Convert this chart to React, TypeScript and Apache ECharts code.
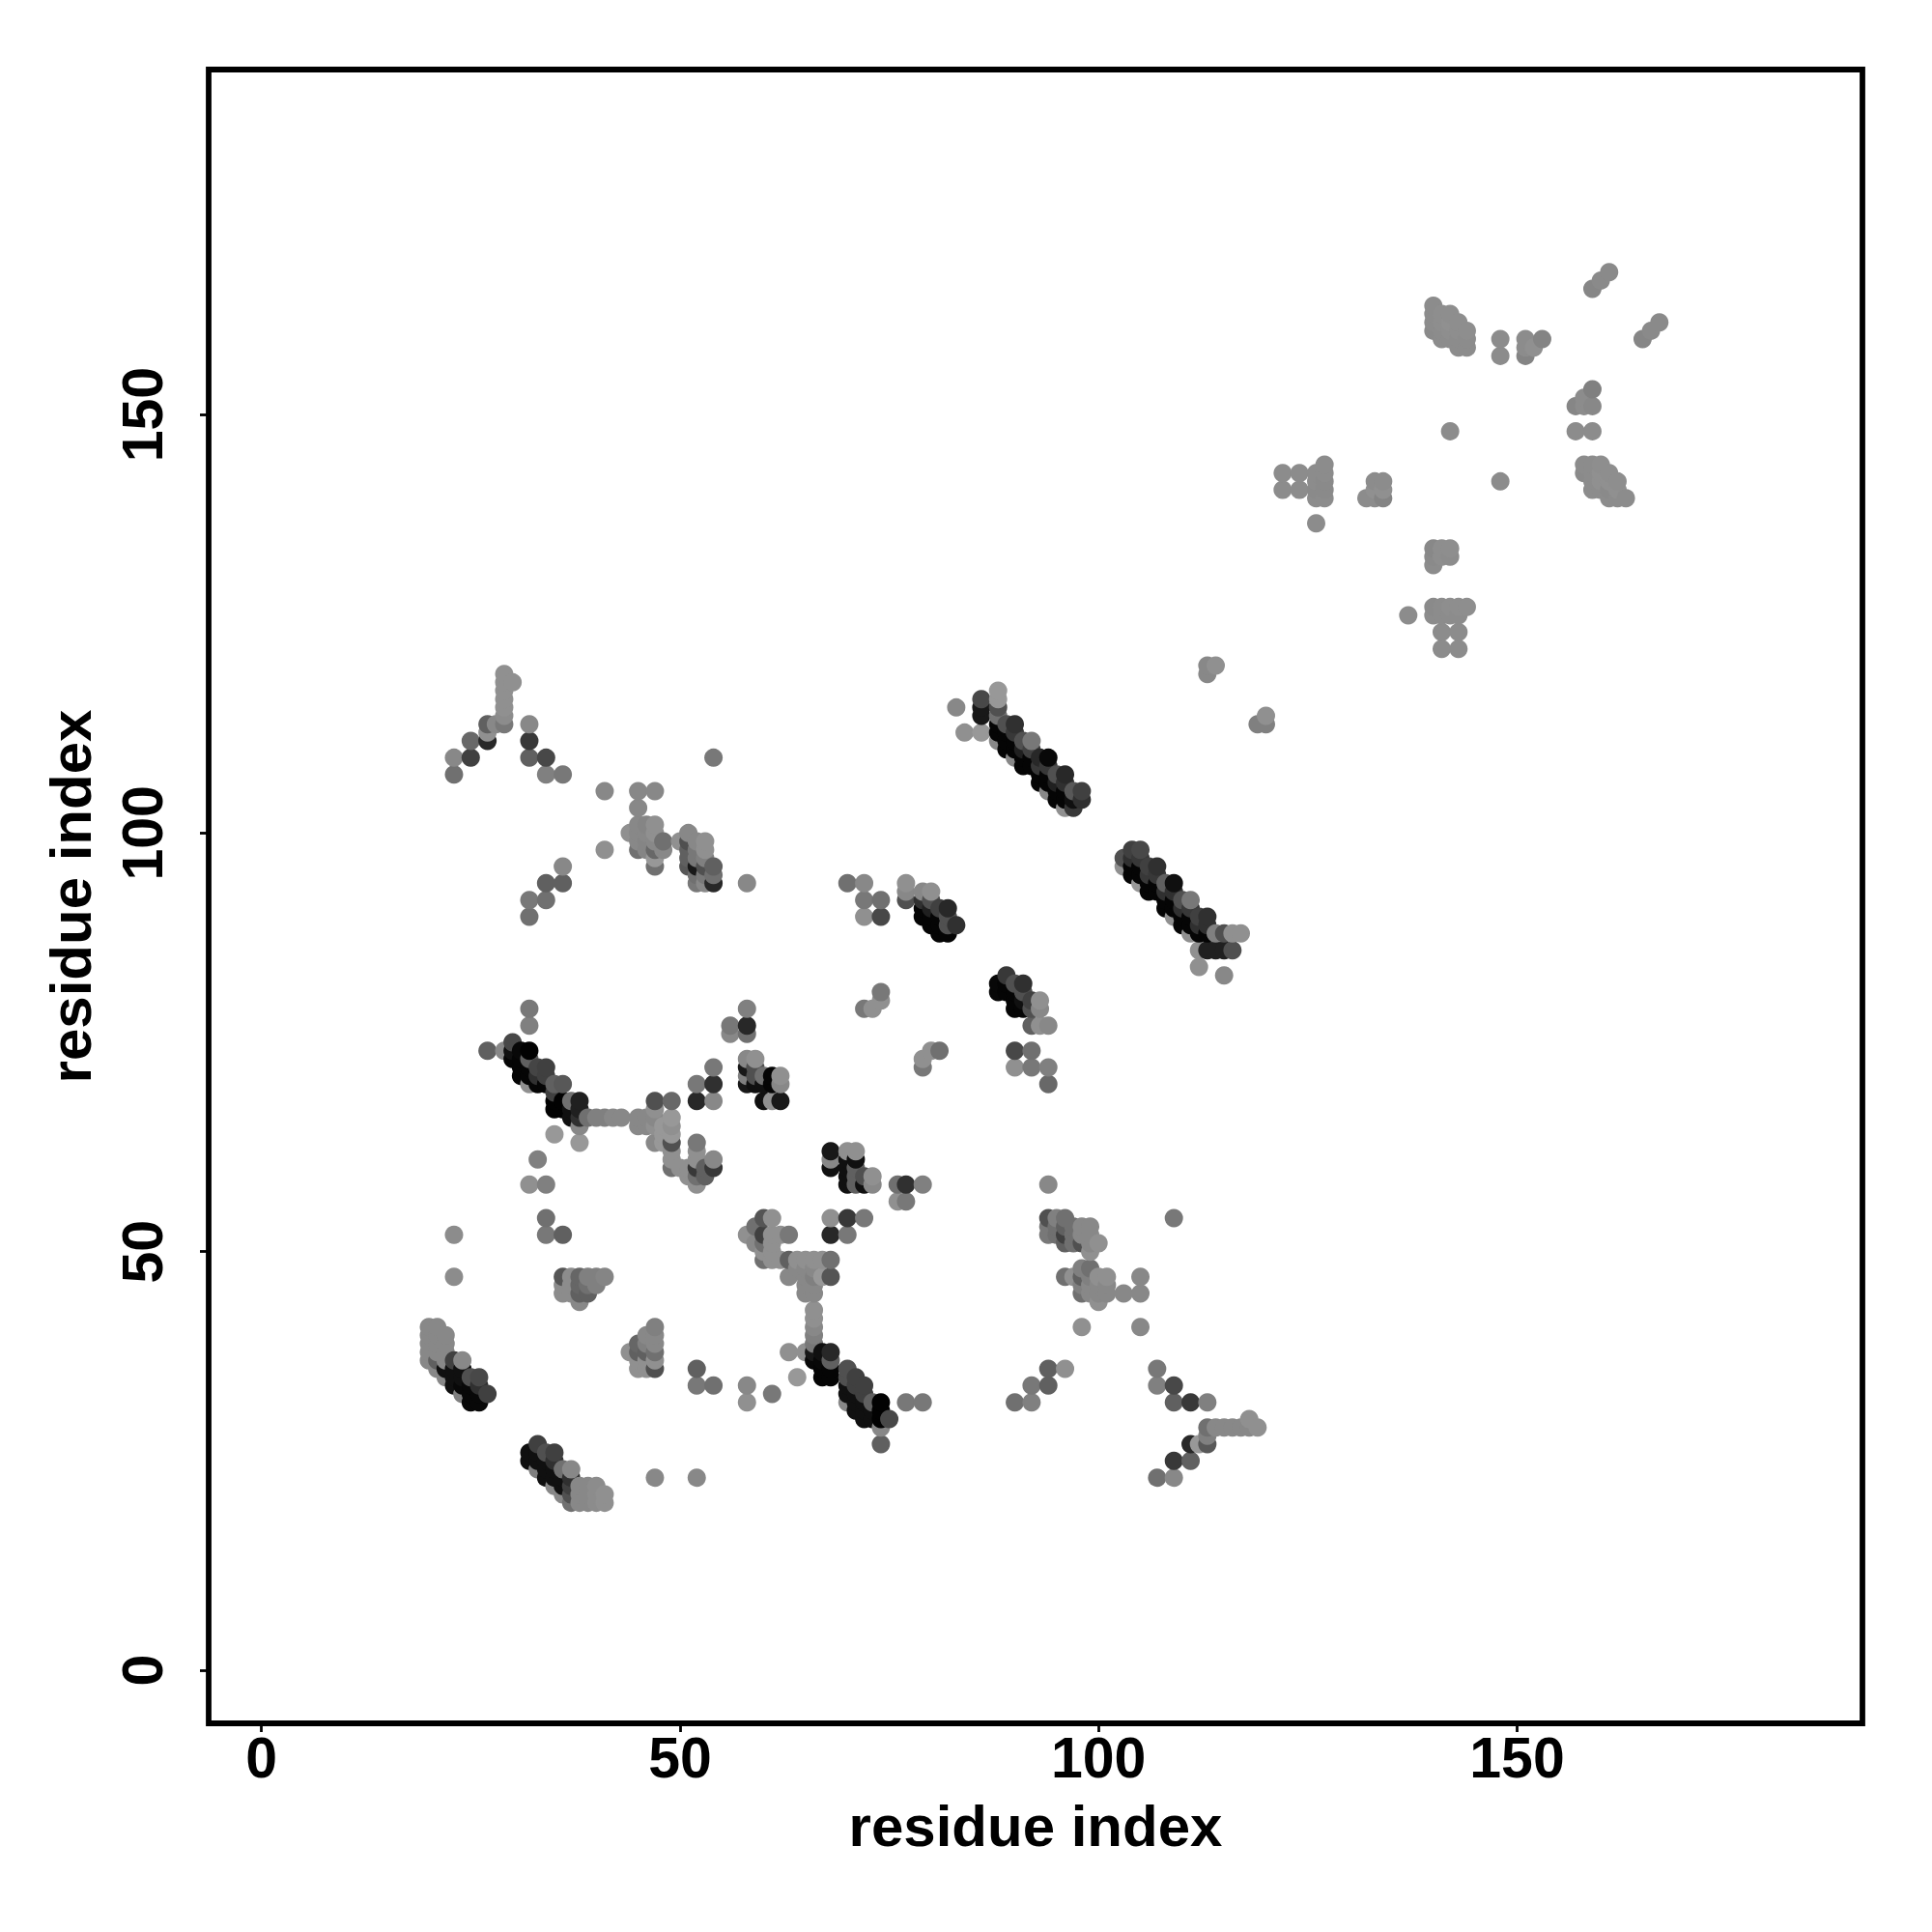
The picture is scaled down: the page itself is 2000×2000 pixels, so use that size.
import React, { useEffect, useRef } from "react";
import * as echarts from "echarts";

type P = [number, number, number];

const axisTicks = [0, 50, 100, 150];
const axisTitle = "residue index";

const bandA: P[] = [
  [20,37,0x88],[20,38,0x88],[20,39,0x88],[20,40,0x88],[20,41,0x88],
  [21,36,0x88],[21,37,0x60],[21,38,0x88],[21,39,0x88],[21,40,0x88],[21,41,0x88],
  [22,35,0x88],[22,36,0x10],[22,37,0x88],[22,38,0x88],[22,39,0x88],[22,40,0x88],
  [23,34,0x10],[23,35,0x10],[23,36,0x10],[23,37,0x40],
  [24,33,0x80],[24,34,0x08],[24,35,0x10],[24,36,0x10],[24,37,0x88],
  [25,32,0x08],[25,33,0x08],[25,34,0x08],[25,35,0x50],
  [26,32,0x08],[26,33,0x08],[26,34,0x30],[26,35,0x48],
  [27,33,0x40],
];
const bandB: P[] = [
  [32,25,0x10],[32,26,0x10],
  [33,24,0x80],[33,25,0x10],[33,26,0x10],[33,27,0x40],
  [34,23,0x10],[34,24,0x10],[34,25,0x10],[34,26,0x50],
  [35,22,0x88],[35,23,0x10],[35,24,0x10],[35,25,0x30],[35,26,0x40],
  [36,21,0x88],[36,22,0x10],[36,23,0x10],[36,24,0x70],
  [37,20,0x70],[37,21,0x50],[37,22,0x40],[37,23,0x30],[37,24,0x88],
  [38,20,0x88],[38,21,0x88],[38,22,0x88],
  [39,20,0x88],[39,21,0x88],[39,22,0x88],
  [40,20,0x8c],[40,21,0x8c],[40,22,0x8c],
  [41,20,0x90],[41,21,0x90],
  [47,23,0x88],[52,23,0x88],
];
const lowerLeft: P[] = [
  [23,47,0x8c],[23,52,0x8c],[34,54,0x70],[34,52,0x78],[36,52,0x60],
  [36,47,0x55],[37,47,0x8c],[38,47,0x66],[39,47,0x80],[40,47,0x80],[41,47,0x85],
  [36,46,0x8c],[37,46,0x8c],[38,46,0x66],[39,46,0x70],[40,46,0x80],
  [36,45,0x8c],[37,45,0x8c],[38,45,0x60],[39,45,0x60],[38,44,0x88],
  [44,38,0x90],[45,36,0x90],[45,37,0x90],[45,38,0x60],[45,39,0x66],
  [46,36,0x90],[46,37,0x90],[46,38,0x60],[46,39,0x80],[46,40,0x88],
  [47,36,0x50],[47,37,0x90],[47,38,0x70],[47,39,0x88],[47,40,0x88],[47,41,0x80],
  [52,36,0x60],[52,34,0x78],[54,34,0x70],[58,34,0x88],[58,32,0x90],[61,33,0x78],
  [63,38,0x90],[65,38,0x90],[64,35,0x98],
];
const bandC: P[] = [
  [66,43,0x90],[66,42,0x90],[66,41,0x88],[66,40,0x80],[66,39,0x78],[66,38,0x18],[66,37,0x08],
  [67,38,0x10],[67,37,0x08],[67,36,0x05],[67,35,0x05],
  [68,38,0x28],[68,37,0x60],[68,36,0x05],[68,35,0x05],
  [70,36,0x50],[70,35,0x50],[70,34,0x10],[70,33,0x10],[70,32,0x88],
  [71,35,0x40],[71,34,0x40],[71,33,0x10],[71,32,0x10],[71,31,0x10],
  [72,34,0x40],[72,33,0x40],[72,32,0x10],[72,31,0x10],[72,30,0x10],
  [73,32,0x60],[73,31,0x10],[73,30,0x10],
  [74,32,0x02],[74,31,0x02],[74,30,0x02],[74,29,0x88],[74,27,0x60],
  [75,30,0x48],[77,32,0x78],[79,32,0x78],
];
const middleLow: P[] = [
  [58,52,0x90],[59,53,0x70],[59,51,0x88],[60,54,0x55],[60,52,0x40],[60,51,0x70],[60,50,0x90],[60,49,0x70],
  [61,54,0x90],[61,52,0x90],[61,51,0x90],[61,50,0x90],[61,49,0x90],
  [62,52,0x90],[62,49,0x90],[63,52,0x78],[63,49,0x60],[63,47,0x88],[64,49,0x90],[64,48,0x88],
  [65,49,0x90],[65,48,0x88],[65,47,0x88],[65,46,0x88],[65,45,0x88],
  [66,49,0x90],[66,48,0x88],[66,47,0x80],[66,46,0x88],[66,45,0x88],
  [67,49,0x90],[67,47,0x98],[68,49,0x70],[68,47,0x55],
  [68,54,0x90],[70,54,0x38],[72,54,0x78],[68,52,0x28],[70,52,0x78],
];
const blockD: P[] = [
  [68,62,0x18],[68,61,0x88],[68,60,0x10],
  [70,62,0x90],[70,61,0x10],[70,60,0x10],[70,59,0x10],[70,58,0x10],
  [71,62,0x90],[71,61,0x10],[71,60,0x60],[71,59,0x60],[71,58,0x60],
  [72,59,0x50],[72,58,0x10],[73,59,0x90],[73,58,0x88],
  [76,58,0x70],[77,58,0x30],[79,58,0x80],[76,56,0x90],[77,56,0x78],
  [94,58,0x88],
];
const rightLow: P[] = [
  [94,54,0x50],[95,54,0x80],[96,54,0x70],[94,53,0x78],[94,52,0x78],
  [95,53,0x70],[95,52,0x70],[96,53,0x60],[96,52,0x40],[96,51,0x60],
  [97,53,0x70],[97,52,0x70],[97,51,0x70],[98,53,0x88],[98,52,0x88],[98,51,0x50],
  [99,53,0x88],[99,52,0x88],[99,51,0x88],[99,50,0x90],[100,51,0x90],
  [96,47,0x70],[97,47,0x90],[98,48,0x80],[98,47,0x60],[98,46,0x80],[98,45,0x70],
  [99,48,0x70],[99,47,0x80],[99,46,0x88],[99,45,0x88],
  [100,47,0x90],[100,46,0x88],[100,45,0x88],[100,44,0x90],
  [101,47,0x90],[101,46,0x88],[101,45,0x88],
  [103,45,0x88],[105,47,0x88],[105,45,0x88],[98,41,0x90],[105,41,0x88],[109,54,0x78],
  [94,36,0x60],[96,36,0x90],[92,34,0x78],[94,34,0x60],[90,32,0x70],[92,32,0x80],
  [107,36,0x78],[107,34,0x80],[109,34,0x48],[109,32,0x60],[111,32,0x38],[113,32,0x80],
  [113,29,0x70],[114,29,0x88],[115,29,0x88],[116,29,0x88],[117,29,0x88],[118,30,0x90],[118,29,0x88],[119,29,0x90],
  [113,28,0x80],[113,27,0x58],[112,27,0x98],[111,27,0x28],[111,25,0x60],[109,25,0x38],[107,23,0x70],[109,23,0x88],
];
const bandE: P[] = [
  [32,79,0x78],[32,77,0x80],[27,74,0x60],[29,74,0x88],[30,75,0x48],[30,74,0x10],[30,73,0x05],
  [31,74,0x08],[31,73,0x05],[31,72,0x05],[31,71,0x05],
  [32,74,0x02],[32,73,0x60],[32,72,0x05],[32,71,0x05],[32,70,0x90],
  [33,72,0x45],[33,71,0x30],[33,70,0x05],[34,72,0x40],[34,71,0x40],[34,70,0x05],
  [35,70,0x60],[35,69,0x40],[35,68,0x02],[35,67,0x02],[36,70,0x58],[36,68,0x02],[36,67,0x02],
  [37,68,0x70],[37,67,0x10],[37,66,0x10],[38,68,0x20],[38,67,0x20],[38,66,0x30],[38,65,0x88],[38,63,0x98],
  [39,66,0x70],[40,66,0x80],[41,66,0x80],[42,66,0x88],[43,66,0x88],
  [35,64,0x98],[33,61,0x80],[32,58,0x90],[34,58,0x80],
];
const middleMid: P[] = [
  [45,66,0x88],[45,65,0x88],[46,66,0x88],[46,65,0x88],[47,68,0x50],[47,67,0x90],[47,66,0x88],[47,65,0x90],[47,63,0x88],
  [48,65,0x98],[48,64,0x98],[48,63,0x98],
  [49,68,0x68],[49,66,0x98],[49,65,0x90],[49,64,0x98],[49,63,0x50],[49,62,0x90],[49,61,0x90],[49,60,0x70],
  [50,60,0x90],[51,60,0x90],[51,59,0x90],
  [52,63,0x78],[52,62,0x90],[52,61,0x90],[52,60,0x38],[52,59,0x70],[52,58,0x90],
  [53,60,0x60],[53,59,0x60],[54,61,0x88],[54,60,0x38],
  [52,70,0x78],[52,68,0x28],[54,72,0x78],[54,70,0x30],[54,68,0x88],
  [56,77,0x78],[56,76,0x88],[58,79,0x80],[58,77,0x28],[58,76,0x70],
  [58,73,0x88],[58,72,0x18],[58,71,0x80],[58,70,0x18],
  [59,73,0x90],[59,72,0x50],[59,71,0x50],[59,70,0x10],
  [60,71,0x70],[60,70,0x10],[60,68,0x10],[61,71,0x05],[61,70,0x05],[61,68,0x90],
  [62,71,0x90],[62,70,0x88],[62,68,0x18],
];
const middleHigh: P[] = [
  [74,81,0x78],[74,80,0x90],[73,79,0x90],[72,79,0x78],
  [81,74,0x70],[80,74,0x90],[79,73,0x90],[79,72,0x78],
  [88,82,0x08],[88,81,0x08],[89,83,0x38],[89,82,0x05],[89,81,0x05],
  [90,82,0x50],[90,81,0x05],[90,80,0x05],[90,79,0x05],
  [91,82,0x30],[91,81,0x50],[91,80,0x10],[91,79,0x05],
  [92,80,0x40],[92,79,0x50],[93,80,0x90],[93,79,0x88],
  [92,77,0x60],[93,77,0x90],[94,77,0x88],
  [90,74,0x48],[92,74,0x70],[90,72,0x90],[92,72,0x78],[94,72,0x80],[94,70,0x68],
];
const upperLeft: P[] = [
  [29,119,0x90],[30,118,0x90],[29,118,0x90],[29,117,0x90],[29,116,0x90],[29,115,0x90],[29,114,0x8c],[29,113,0x78],
  [28,113,0x88],[27,113,0x60],[27,112,0x90],[27,111,0x28],[25,111,0x68],[25,109,0x40],[23,109,0x88],[23,107,0x70],
  [32,113,0x88],[32,111,0x38],[32,109,0x60],[34,109,0x48],[34,107,0x80],[36,107,0x78],
  [54,109,0x78],[41,105,0x88],[45,105,0x88],[47,105,0x88],[45,103,0x88],[41,98,0x90],
  [44,100,0x90],[45,101,0x88],[45,100,0x88],[45,99,0x88],[45,98,0x70],
  [46,101,0x85],[46,100,0x88],[46,99,0x85],[46,98,0x85],
  [47,101,0x90],[47,100,0x90],[47,99,0x88],[47,98,0x68],[47,97,0x98],[47,96,0x70],
  [48,99,0x70],[48,98,0x88],[50,99,0x90],
  [51,100,0x88],[51,99,0x50],[51,98,0x60],[51,97,0x60],[51,96,0x58],
  [52,99,0x88],[52,98,0x78],[52,97,0x78],[52,96,0x18],[52,95,0x70],[52,94,0x78],
  [53,99,0x90],[53,98,0x90],[53,97,0x80],[53,96,0x50],[53,95,0x78],[53,94,0x88],
  [54,96,0x60],[54,95,0x70],[54,94,0x28],[58,94,0x88],
  [36,96,0x88],[36,94,0x60],[34,94,0x60],[32,92,0x78],[34,92,0x70],[32,90,0x70],
];
const bandF: P[] = [
  [83,115,0x88],[84,112,0x90],[86,112,0x98],[86,116,0x48],[86,115,0x18],[86,114,0x18],
  [88,117,0x98],[88,116,0x98],[88,115,0x50],[88,114,0x70],[88,113,0x05],[88,112,0x05],[88,111,0x88],
  [89,113,0x50],[89,112,0x05],[89,111,0x05],[89,110,0x05],
  [90,113,0x30],[90,112,0x38],[90,111,0x05],[90,110,0x05],[90,109,0x88],
  [91,111,0x50],[91,110,0x20],[91,109,0x05],[91,108,0x05],
  [92,111,0x78],[92,110,0x40],[92,109,0x05],[92,108,0x05],
  [93,109,0x28],[93,108,0x38],[93,107,0x05],[93,106,0x05],
  [94,109,0x08],[94,108,0x38],[94,107,0x05],[94,106,0x05],[94,105,0x88],
  [95,107,0x50],[95,106,0x20],[95,105,0x05],[95,104,0x05],
  [96,107,0x28],[96,106,0x30],[96,105,0x05],[96,104,0x05],[96,103,0x90],
  [97,105,0x58],[97,104,0x10],[97,103,0x38],[98,105,0x40],[98,104,0x30],
];
const bandG: P[] = [
  [103,97,0x50],[103,96,0x90],[104,98,0x40],[104,97,0x30],[104,96,0x05],[104,95,0x05],
  [105,98,0x48],[105,97,0x38],[105,96,0x05],[105,95,0x05],[105,94,0x98],
  [106,96,0x40],[106,95,0x38],[106,94,0x05],[106,93,0x05],
  [107,96,0x30],[107,95,0x38],[107,94,0x05],[107,93,0x05],
  [108,94,0x60],[108,93,0x30],[108,92,0x05],[108,91,0x05],
  [109,94,0x10],[109,93,0x30],[109,92,0x05],[109,91,0x05],[109,90,0x90],
  [110,92,0x50],[110,91,0x30],[110,90,0x05],[110,89,0x05],
  [111,92,0x78],[111,91,0x38],[111,90,0x05],[111,89,0x05],[111,88,0x90],
  [112,90,0x40],[112,89,0x30],[112,88,0x05],[112,86,0x90],[112,84,0x90],
  [113,90,0x30],[113,89,0x30],[113,88,0x05],[113,86,0x20],
  [114,88,0x80],[114,86,0x20],[115,88,0x50],[115,86,0x20],[115,83,0x88],
  [116,88,0x90],[116,86,0x50],[117,88,0x90],
  [113,120,0x88],[113,119,0x88],[114,120,0x90],[119,113,0x80],[120,114,0x90],[120,113,0x80],
];
const bandH: P[] = [
  [70,94,0x70],[72,94,0x88],[72,92,0x78],[74,92,0x70],[72,90,0x90],[74,90,0x48],
  [77,94,0x90],[77,93,0x88],[77,92,0x50],
  [79,93,0x88],[79,92,0x30],[79,91,0x05],[79,90,0x05],
  [80,93,0x90],[80,92,0x50],[80,91,0x20],[80,90,0x05],[80,89,0x05],
  [81,91,0x40],[81,90,0x05],[81,89,0x05],[81,88,0x05],
  [82,91,0x28],[82,90,0x50],[82,89,0x50],[82,88,0x05],
  [83,89,0x30],
];
const domainC: P[] = [
  [122,143,0x8c],[124,143,0x8c],[122,141,0x8c],[124,141,0x8c],
  [126,143,0x8c],[126,142,0x8c],[126,141,0x8a],[126,140,0x8c],[126,137,0x8c],
  [127,144,0x8c],[127,143,0x8c],[127,142,0x8a],[127,141,0x8a],[127,140,0x8c],
  [132,140,0x8c],[133,142,0x8c],[133,141,0x90],[133,140,0x8c],[134,142,0x8c],[134,141,0x90],[134,140,0x84],
  [148,142,0x8c],[142,148,0x8c],
  [158,144,0x8c],[158,143,0x8a],[159,144,0x8c],[159,143,0x8c],[159,142,0x8c],[159,141,0x8c],
  [160,144,0x8e],[160,143,0x90],[160,142,0x90],[160,141,0x8c],
  [161,143,0x8e],[161,142,0x90],[161,141,0x8a],[161,140,0x8c],
  [162,142,0x8e],[162,141,0x90],[162,140,0x8c],[163,140,0x8c],
  [140,134,0x88],[140,133,0x8a],[140,132,0x8c],[141,134,0x8e],[141,133,0x8e],[142,134,0x8e],[142,133,0x8c],
  [137,126,0x8c],[140,127,0x8a],[140,126,0x8c],[141,127,0x8c],[141,126,0x8c],[142,127,0x8e],[142,126,0x8c],
  [143,127,0x8e],[143,126,0x8c],[144,127,0x8e],
  [141,124,0x8c],[141,122,0x8c],[143,124,0x8c],[143,122,0x8c],
];
const domainD: P[] = [
  [161,167,0x8a],[160,166,0x8a],[159,165,0x86],[167,161,0x8a],[166,160,0x8a],[165,159,0x86],
  [140,163,0x8c],[140,162,0x8c],[140,161,0x8c],[140,160,0x8a],
  [141,162,0x8e],[141,161,0x8e],[141,160,0x8c],[141,159,0x8c],
  [142,162,0x8e],[142,161,0x90],[142,160,0x8e],[142,159,0x8c],
  [143,161,0x8e],[143,160,0x8e],[143,159,0x8c],[143,158,0x8c],
  [144,160,0x8e],[144,159,0x8c],[144,158,0x8c],
  [148,159,0x8c],[148,157,0x8c],[151,159,0x8c],[151,158,0x8c],[151,157,0x84],[152,158,0x90],[153,159,0x84],
  [159,153,0x80],[158,152,0x8c],[157,151,0x86],[158,151,0x8c],[159,151,0x88],[157,148,0x8c],[159,148,0x8c],
];

const groups: P[][] = [
  bandA, bandB, lowerLeft, bandC, middleLow, blockD, rightLow, bandE, middleMid,
  middleHigh, upperLeft, bandF, bandG, bandH, domainC, domainD,
];

const grey = (g: number) => `rgb(${g},${g},${g})`;
const points = groups.flat().slice().sort((a, b) => a[0] - b[0] || a[1] - b[1]);

const FONT = '"Liberation Sans", Arial, sans-serif';

function axisCommon(min: number, max: number, labelRotate: number, margin: number, nameGap: number) {
  return {
    type: "value" as const,
    min,
    max,
    name: axisTitle,
    nameLocation: "middle" as const,
    nameGap,
    nameTextStyle: { fontFamily: FONT, fontWeight: "bold" as const, fontSize: 60, color: "#000" },
    splitLine: { show: false },
    axisLine: { show: false, onZero: false },
    axisTick: {
      show: true,
      length: 9,
      customValues: axisTicks,
      lineStyle: { color: "#000", width: 2.8 },
    },
    axisLabel: {
      show: true,
      rotate: labelRotate,
      margin,
      customValues: axisTicks,
      fontFamily: FONT,
      fontWeight: "bold" as const,
      fontSize: 59,
      color: "#000",
      hideOverlap: false,
    },
  };
}

export default function App() {
  const ref = useRef<HTMLDivElement>(null);
  useEffect(() => {
    document.body.style.margin = "0";
    const chart = echarts.init(ref.current!, undefined, { renderer: "svg" });
    chart.setOption({
      animation: false,
      backgroundColor: "#fff",
      grid: {
        show: true,
        left: 216,
        top: 72,
        width: 1712,
        height: 1712,
        borderColor: "#000",
        borderWidth: 5.8,
        backgroundColor: "transparent",
        containLabel: false,
      },
      xAxis: axisCommon(-6.31, 191.26, 0, 6, 76),
      yAxis: axisCommon(-6.35, 191.2, 90, 39, 113),
      series: [
        {
          type: "scatter",
          symbol: "circle",
          symbolSize: 19,
          clip: false,
          progressive: 0,
          silent: true,
          itemStyle: { opacity: 1 },
          data: points.map((p) => ({
            value: [p[0], p[1]],
            itemStyle: { color: grey(p[2]), opacity: 1 },
          })),
        },
      ],
    });
    return () => chart.dispose();
  }, []);
  return <div ref={ref} style={{ position: "absolute", left: 0, top: 0, width: 2000, height: 2000 }} />;
}
